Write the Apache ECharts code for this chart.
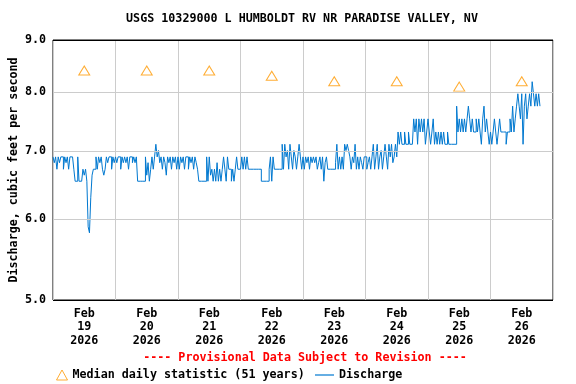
<!DOCTYPE html>
<html><head><meta charset="utf-8">
<script src="https://cdn.jsdelivr.net/npm/echarts@6/dist/echarts.min.js"></script>
<style>html,body{margin:0;padding:0;background:#fff}#c{width:576px;height:384px}</style>
</head><body><div id="c"></div>
<script>
const chartTitle = 'USGS 10329000 L HUMBOLDT RV NR PARADISE VALLEY, NV';
const yAxisName = 'Discharge, cubic feet per second';
const provisionalNote = '---- Provisional Data Subject to Revision ----';
const yTicks = [5, 6, 7, 8, 9];
const dayLabels = ['Feb\n19\n2026', 'Feb\n20\n2026', 'Feb\n21\n2026', 'Feb\n22\n2026',
                   'Feb\n23\n2026', 'Feb\n24\n2026', 'Feb\n25\n2026', 'Feb\n26\n2026'];
const medianName = 'Median daily statistic (51 years)';
const dischargeName = 'Discharge';
const medianValues = [8.4, 8.4, 8.4, 8.3, 8.2, 8.2, 8.1, 8.2];
// discharge, one value every 30 minutes, starting at midnight of each day
const feb19 = [6.91,6.82,6.91,6.72,6.91,6.82,6.91,6.91,6.72,6.91,6.82,6.91,6.72,6.91,6.91,
  6.91,6.72,6.54,6.54,6.91,6.54,6.54,6.54,6.72,
  6.63,6.72,6.54,5.90,5.82,6.30,6.63,6.72,6.72,
  6.91,6.72,6.91,6.82,6.91,6.72,6.63,6.72,6.91,6.82,6.91,6.91,6.72,6.91,6.82];
const feb20 = [6.91,6.82,6.91,6.91,6.72,6.91,6.82,6.91,6.82,6.91,6.72,6.91,6.91,6.82,6.91,6.82,
  6.91,6.54,6.54,6.54,6.54,6.54,6.54,6.91,
  6.63,6.82,6.54,6.72,6.91,6.72,6.91,7.11,6.91,7.01,6.82,6.91,6.72,6.91,6.82,6.63,6.91,6.82,6.91,6.72,6.91,6.82,6.91,6.72];
const feb21 = [6.91,6.72,6.91,6.82,6.91,6.72,6.91,6.91,6.72,6.91,6.82,6.91,6.72,6.91,6.82,6.72,
  6.54,6.54,6.54,6.54,6.54,6.54,
  6.91,6.54,6.91,6.63,6.72,6.54,6.72,6.54,6.82,6.54,6.72,6.54,6.72,
  6.91,6.72,6.54,6.91,6.72,6.72,6.54,6.72,6.54,6.72,6.91,6.72,6.72];
const feb22 = [6.72,6.91,6.72,6.91,6.72,6.91,
  6.72,6.72,6.72,6.72,6.72,6.72,6.72,6.72,6.72,6.72,
  6.54,6.54,6.54,6.54,6.54,6.54,
  6.72,6.91,6.54,6.91,6.72,6.72,
  6.72,6.72,6.72,6.72,
  7.11,6.72,7.11,6.91,7.01,6.72,7.11,6.91,6.72,7.01,6.91,6.72,6.91,7.11,6.91,6.72];
const feb23 = [6.91,6.72,6.91,6.82,6.91,6.72,6.91,6.82,6.91,6.82,6.91,6.72,6.82,6.91,6.72,6.91,
  6.54,6.82,6.91,
  6.72,6.72,6.72,6.72,6.72,6.72,
  6.82,7.11,6.72,6.91,6.72,6.91,6.72,
  7.11,7.01,7.11,7.01,
  6.91,6.72,6.91,6.82,7.11,6.72,6.91,6.72,6.91,6.82,6.72,6.91];
const feb24 = [6.91,6.72,6.82,6.91,6.72,6.91,7.11,6.72,6.91,7.11,6.72,6.91,7.01,6.72,6.91,7.11,6.91,6.72,7.11,6.91,7.11,6.82,6.91,7.11,
  6.91,7.31,7.11,7.31,
  7.11,7.11,7.31,7.11,7.11,7.31,7.11,7.11,
  7.11,7.53,7.31,7.53,7.11,7.53,7.31,7.53,7.31,7.53,7.11,7.31];
const feb25 = [7.53,7.31,7.11,7.31,7.53,7.11,7.31,7.11,7.31,7.11,7.31,7.11,7.31,7.11,7.11,7.31,
  7.11,7.11,7.11,7.11,7.11,7.11,
  7.75,7.31,7.53,7.31,7.53,7.31,7.53,7.31,7.53,7.75,7.53,7.31,7.53,7.31,7.31,7.53,7.31,7.53,7.31,7.11,7.53,7.75,7.31,7.53,7.31,7.11];
const feb26 = [7.31,7.11,7.31,7.53,7.31,7.11,7.31,7.53,
  7.31,7.31,7.31,7.31,7.11,7.31,7.31,
  7.53,7.31,7.75,7.31,7.53,
  7.75,7.97,7.75,7.53,7.97,7.11,7.75,7.97,7.53,7.75,7.97,7.75,8.19,7.97,7.75,7.97,7.75,7.97,7.75];
const dailyDischarge = [feb19, feb20, feb21, feb22, feb23, feb24, feb25, feb26];
const stepHours = 0.5;

const dischargeData = [];
dailyDischarge.forEach((arr, d) => arr.forEach((v, i) => dischargeData.push([d * 24 + i * stepHours, v])));
const medianData = medianValues.map((v, d) => [d * 24 + 12, v]);

const FONT_FAMILY = '"DejaVu Sans Mono", monospace';
const FS = 11.7;
const BLUE = '#0078d0';
const txt = { fontFamily: FONT_FAMILY, fontWeight: 'bold', fontSize: FS, color: '#000' };

const chart = echarts.init(document.getElementById('c'), null, { renderer: 'canvas' });
chart.setOption({
  animation: false,
  backgroundColor: '#fff',
  grid: { left: 50, right: 23, top: 40, bottom: 84, show: true, borderColor: '#000', borderWidth: 1, backgroundColor: 'transparent' },
  xAxis: [
    { type: 'value', min: 0, max: 192, interval: 24,
      axisLine: { show: false }, axisTick: { show: false }, axisLabel: { show: false },
      splitLine: { show: true, lineStyle: { color: '#cccccc', width: 1 } } },
    { type: 'value', min: 0, max: 192, interval: 12, position: 'bottom',
      axisLine: { show: false }, axisTick: { show: false }, splitLine: { show: false },
      axisLabel: { show: true, margin: 7, lineHeight: 13.5, ...txt,
        formatter: v => (v % 24 === 12) ? dayLabels[(v - 12) / 24] : '' } }
  ],
  yAxis: { type: 'log', logBase: 10, min: 5, max: 9,
    name: yAxisName, nameLocation: 'middle', nameGap: 33,
    nameTextStyle: { ...txt },
    axisLine: { show: false }, axisTick: { show: false }, axisLabel: { show: false },
    splitLine: { show: false } },
  legend: [
    { data: [{ name: medianName, icon: 'triangle', itemStyle: { color: 'rgba(0,0,0,0)', borderColor: '#ff9900', borderWidth: 1 } }],
      left: 51, top: 364, itemWidth: 11, itemHeight: 10, selectedMode: false, textStyle: { ...txt } },
    { data: [{ name: dischargeName, icon: 'rect', itemStyle: { color: BLUE } }],
      left: 310, top: 364, itemWidth: 19, itemHeight: 1.2, selectedMode: false, textStyle: { ...txt } }
  ],
  graphic: [
    { type: 'text', x: 302, y: 19, style: { text: chartTitle, textAlign: 'center', textVerticalAlign: 'middle',
      font: 'bold ' + FS + 'px ' + FONT_FAMILY, fill: '#000' } },
    { type: 'text', x: 305, y: 358, style: { text: provisionalNote, textAlign: 'center', textVerticalAlign: 'middle',
      font: 'bold ' + FS + 'px ' + FONT_FAMILY, fill: '#ff0000' } }
  ],
  series: [
    { type: 'line', name: '_grid', data: [[0, 6]], symbol: 'none', z: 1, silent: true,
      lineStyle: { opacity: 0 },
      markLine: { silent: true, symbol: ['none', 'none'], animation: false,
        data: yTicks.map(v => ({ yAxis: v, lineStyle: { color: (v === 5 || v === 9) ? '#000' : '#cccccc', width: 1, type: 'solid' } })),
        label: { show: true, position: 'start', distance: 7, ...txt,
          formatter: p => Number(p.value).toFixed(1) } } },
    { type: 'line', name: dischargeName, data: dischargeData, step: 'end', symbol: 'none', z: 3,
      lineStyle: { color: BLUE, width: 1 }, itemStyle: { color: BLUE } },
    { type: 'scatter', name: medianName, data: medianData, symbol: 'triangle', symbolSize: [11, 9], z: 4,
      itemStyle: { color: 'rgba(0,0,0,0)', borderColor: '#ff9900', borderWidth: 1 } }
  ]
});
</script>
</body></html>
